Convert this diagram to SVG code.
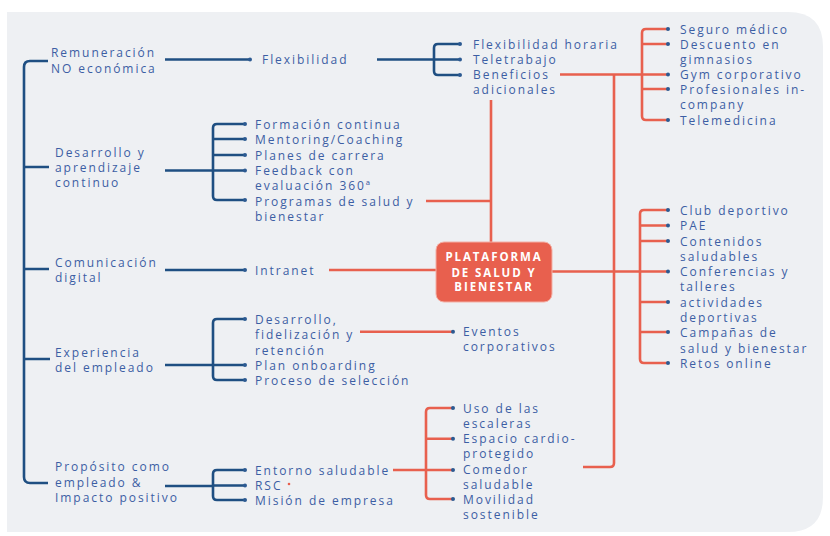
<svg xmlns="http://www.w3.org/2000/svg" width="830" height="536" viewBox="0 0 830 536">
<defs>
<style>
.t{font-family:"Open Sans","Liberation Sans",sans-serif;font-size:12px;letter-spacing:1.95px;fill:#3c5ea4}
.c{font-family:"Open Sans","Liberation Sans",sans-serif;font-size:11.5px;font-weight:700;letter-spacing:1.9px;fill:#ffffff;text-anchor:middle}
.b{fill:none;stroke:#1f4f82;stroke-width:2.6;stroke-linejoin:round}
.r{fill:none;stroke:#e8604e;stroke-width:2.6;stroke-linejoin:round}
.d{fill:#2c5a92}
</style>
</defs>
<rect width="830" height="536" fill="#ffffff"/>
<path d="M7,12 H788 Q823,12 823,47 V497 Q823,532 788,532 H7 Z" fill="#eef0f3"/>
<g id="connectors">
<path class="b" d="M48,61 H30 Q24,61 24,67 V477 Q24,483 30,483 H48 M24,167 H49 M24,269 H49 M24,359 H50"/>
<path class="b" d="M165,59.5 H250"/>
<path class="b" d="M377,59.5 H460 M460,44 H438 Q434,44 434,48 V71 Q434,75 438,75 H460"/>
<path class="b" d="M165,170.5 H245 M245,124 H217 Q213,124 213,128 V196 Q213,200 217,200 H245 M213,139 H245 M213,155 H245"/>
<path class="b" d="M165,270 H245"/>
<path class="b" d="M165,365 H245 M245,319 H217 Q213,319 213,323 V376 Q213,380 217,380 H245"/>
<path class="b" d="M165,486 H213 M245,470 H217 Q213,470 213,474 V496 Q213,500 217,500 H245 M213,485.5 H245"/>
<path class="r" d="M560,74.5 H668 M668,29 H646 Q642,29 642,33 V116 Q642,120 646,120 H668 M642,44 H668 M642,89 H668"/>
<path class="r" d="M614,74.5 V463 Q614,467 610,467 H583"/>
<path class="r" d="M491,100 V242 M426,201 H491"/>
<path class="r" d="M329,270 H436"/>
<path class="r" d="M552,271.5 H668 M668,210 H644 Q640,210 640,214 V359 Q640,363 644,363 H668 M640,225.5 H668 M640,241 H668 M640,302 H668 M640,332 H668"/>
<path class="r" d="M360,331.7 H453"/>
<path class="r" d="M393,470 H453 M453,408 H430 Q426,408 426,412 V495 Q426,499 430,499 H453 M426,438.7 H453"/>
<g>
<circle class="d" cx="250" cy="59.5" r="2"/>
<circle class="d" cx="460" cy="44" r="2"/><circle class="d" cx="460" cy="59.5" r="2"/><circle class="d" cx="460" cy="75" r="2"/>
<circle class="d" cx="245" cy="124" r="2"/><circle class="d" cx="245" cy="139" r="2"/><circle class="d" cx="245" cy="155" r="2"/><circle class="d" cx="245" cy="170.5" r="2"/><circle class="d" cx="245" cy="200" r="2"/>
<circle class="d" cx="245" cy="270" r="2"/>
<circle class="d" cx="245" cy="319" r="2"/><circle class="d" cx="245" cy="365" r="2"/><circle class="d" cx="245" cy="380" r="2"/>
<circle class="d" cx="245" cy="470" r="2"/><circle class="d" cx="245" cy="485.5" r="2"/><circle class="d" cx="245" cy="500" r="2"/>
<circle class="d" cx="668" cy="29" r="2"/><circle class="d" cx="668" cy="44" r="2"/><circle class="d" cx="668" cy="74.5" r="2"/><circle class="d" cx="668" cy="89" r="2"/><circle class="d" cx="668" cy="120" r="2"/>
<circle class="d" cx="668" cy="210" r="2"/><circle class="d" cx="668" cy="225.5" r="2"/><circle class="d" cx="668" cy="241" r="2"/><circle class="d" cx="668" cy="271.5" r="2"/><circle class="d" cx="668" cy="302" r="2"/><circle class="d" cx="668" cy="332" r="2"/><circle class="d" cx="668" cy="363" r="2"/>
<circle class="d" cx="453" cy="331.7" r="2"/>
<circle class="d" cx="453" cy="408" r="2"/><circle class="d" cx="453" cy="438.7" r="2"/><circle class="d" cx="453" cy="470" r="2"/><circle class="d" cx="453" cy="499" r="2"/>
<circle cx="289" cy="484" r="1.3" fill="#e8604e"/>
</g>
</g>
<g id="center">
<rect x="436" y="242" width="116" height="60" rx="8" fill="#e8604e" stroke="#f3b0a6" stroke-width="1"/>
<text class="c" x="494" y="261">PLATAFORMA</text>
<text class="c" x="494" y="276.5">DE SALUD Y</text>
<text class="c" x="494" y="291">BIENESTAR</text>
</g>
<g id="remuneracion"><text class="t" x="51" y="56.5">Remuneración</text><text class="t" x="51" y="72.5">NO económica</text></g>
<g id="flexibilidad"><text class="t" x="262" y="63.5">Flexibilidad</text></g>
<g id="flex-horaria"><text class="t" x="473" y="48.5">Flexibilidad horaria</text></g>
<g id="teletrabajo"><text class="t" x="473" y="63.5">Teletrabajo</text></g>
<g id="beneficios"><text class="t" x="473" y="78.5">Beneficios</text><text class="t" x="473" y="93.5">adicionales</text></g>
<g id="seguro"><text class="t" x="680" y="33.5">Seguro médico</text></g>
<g id="descuento"><text class="t" x="680" y="48.5">Descuento en</text><text class="t" x="680" y="63.5">gimnasios</text></g>
<g id="gym"><text class="t" x="680" y="78.5">Gym corporativo</text></g>
<g id="profesionales"><text class="t" x="680" y="93.5">Profesionales in-</text><text class="t" x="680" y="108.5">company</text></g>
<g id="telemedicina"><text class="t" x="680" y="124.5">Telemedicina</text></g>
<g id="desarrollo"><text class="t" x="55" y="156.5">Desarrollo y</text><text class="t" x="55" y="171.5">aprendizaje</text><text class="t" x="55" y="186.5">continuo</text></g>
<g id="formacion"><text class="t" x="255" y="128.5">Formación continua</text></g>
<g id="mentoring"><text class="t" x="255" y="143.5">Mentoring/Coaching</text></g>
<g id="planes"><text class="t" x="255" y="159.5">Planes de carrera</text></g>
<g id="feedback"><text class="t" x="255" y="174.5">Feedback con</text><text class="t" x="255" y="189.5">evaluación 360ª</text></g>
<g id="programas"><text class="t" x="255" y="205.5">Programas de salud y</text><text class="t" x="255" y="220.5">bienestar</text></g>
<g id="comunicacion"><text class="t" x="55" y="266.5">Comunicación</text><text class="t" x="55" y="281.5">digital</text></g>
<g id="intranet"><text class="t" x="255" y="274.5">Intranet</text></g>
<g id="club"><text class="t" x="680" y="214.5">Club deportivo</text></g>
<g id="pae"><text class="t" x="680" y="229.5">PAE</text></g>
<g id="contenidos"><text class="t" x="680" y="245.5">Contenidos</text><text class="t" x="680" y="260.5">saludables</text></g>
<g id="conferencias"><text class="t" x="680" y="275.5">Conferencias y</text><text class="t" x="680" y="290.5">talleres</text></g>
<g id="actividades"><text class="t" x="680" y="306.5">actividades</text><text class="t" x="680" y="321.5">deportivas</text></g>
<g id="campanas"><text class="t" x="680" y="336.5">Campañas de</text><text class="t" x="680" y="352.5">salud y bienestar</text></g>
<g id="retos"><text class="t" x="680" y="367.5">Retos online</text></g>
<g id="experiencia"><text class="t" x="55" y="356.5">Experiencia</text><text class="t" x="55" y="371.5">del empleado</text></g>
<g id="fidelizacion"><text class="t" x="255" y="323.5">Desarrollo,</text><text class="t" x="255" y="339">fidelización y</text><text class="t" x="255" y="354.5">retención</text></g>
<g id="onboarding"><text class="t" x="255" y="369.5">Plan onboarding</text></g>
<g id="seleccion"><text class="t" x="255" y="384.5">Proceso de selección</text></g>
<g id="eventos"><text class="t" x="463" y="335.5">Eventos</text><text class="t" x="463" y="350.5">corporativos</text></g>
<g id="proposito"><text class="t" x="55" y="471">Propósito como</text><text class="t" x="55" y="486.5">empleado &amp;</text><text class="t" x="55" y="502">Impacto positivo</text></g>
<g id="entorno"><text class="t" x="255" y="474.5">Entorno saludable</text></g>
<g id="rsc"><text class="t" x="255" y="489.5">RSC</text></g>
<g id="mision"><text class="t" x="255" y="504.5">Misión de empresa</text></g>
<g id="escaleras"><text class="t" x="463" y="412.5">Uso de las</text><text class="t" x="463" y="427.5">escaleras</text></g>
<g id="cardio"><text class="t" x="463" y="443">Espacio cardio-</text><text class="t" x="463" y="458">protegido</text></g>
<g id="comedor"><text class="t" x="463" y="473.5">Comedor</text><text class="t" x="463" y="488.5">saludable</text></g>
<g id="movilidad"><text class="t" x="463" y="503.5">Movilidad</text><text class="t" x="463" y="519">sostenible</text></g>
</svg>
